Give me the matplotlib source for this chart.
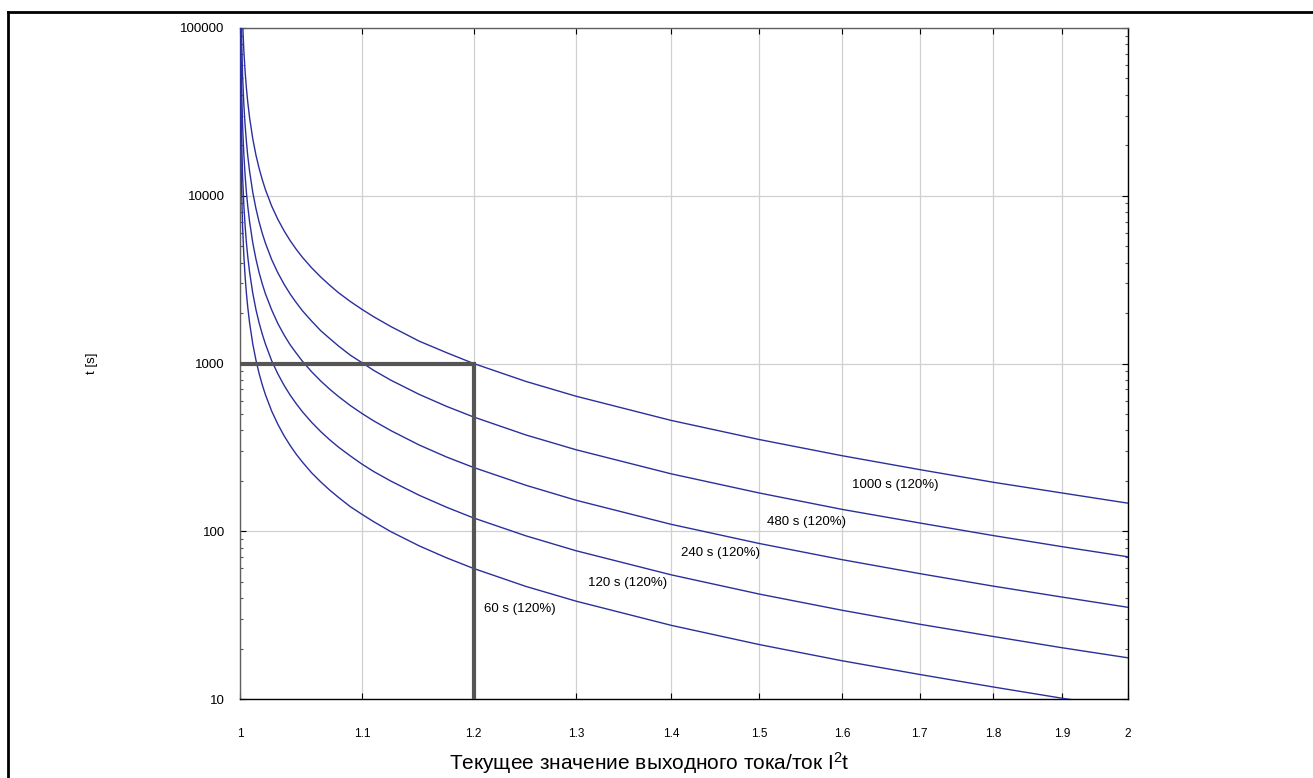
import matplotlib
matplotlib.use("Agg")
import matplotlib.pyplot as plt
from matplotlib.ticker import FixedLocator, NullLocator, LogLocator, NullFormatter
from matplotlib.lines import Line2D

plt.rcParams.update(
    {
        "font.family": ["Liberation Sans", "DejaVu Sans"],
        "mathtext.fontset": "custom",
        "mathtext.rm": "Liberation Sans",
        "mathtext.it": "Liberation Sans",
        "font.size": 9,
    }
)

# Ratio of output current to I2t current (log axis)
x_ratio = [1.0001, 1.0002, 1.0005, 1.001, 1.002, 1.003, 1.004, 1.005, 1.006,
           1.0075, 1.01, 1.0125, 1.015, 1.0175, 1.02, 1.025, 1.03, 1.035,
           1.04, 1.045, 1.05, 1.0575, 1.065, 1.0725, 1.08, 1.09, 1.1, 1.11,
           1.125, 1.15, 1.175, 1.2, 1.25, 1.3, 1.4, 1.5, 1.6, 1.7, 1.8, 1.9, 2.0]

# Trip time [s] for each setting
t_60 = [132000, 66000, 26400, 13200, 6590, 4390, 3290, 2630, 2190,
        1750, 1310, 1050, 873, 748, 653, 521, 434, 371,
        324, 287, 258, 223, 197, 176, 159, 140, 126, 114,
        99.4, 81.9, 69.4, 60, 46.9, 38.3, 27.5, 21.1, 16.9, 14.0, 11.8, 10.1, 8.8]
t_120 = [264000, 132000, 52800, 26400, 13200, 8790, 6590, 5270, 4390,
         3510, 2630, 2100, 1750, 1500, 1310, 1040, 867, 741,
         647, 574, 515, 446, 393, 351, 317, 281, 251, 227,
         199, 164, 139, 120, 93.9, 76.5, 55.0, 42.2, 33.8, 27.9, 23.6, 20.2, 17.6]
t_240 = [528000, 264000, 106000, 52800, 26400, 17600, 13200, 10500, 8770,
         7010, 5250, 4200, 3490, 2990, 2610, 2090, 1730, 1480,
         1290, 1150, 1030, 893, 787, 703, 635, 561, 503, 455,
         398, 327, 277, 240, 188, 153, 110, 84.5, 67.7, 55.9, 47.1, 40.5, 35.2]
t_480 = [1056000, 528000, 211000, 106000, 52700, 35100, 26300, 21100, 17500,
         14000, 10500, 8400, 6990, 5980, 5230, 4170, 3470, 2970,
         2590, 2300, 2060, 1790, 1570, 1410, 1270, 1120, 1010, 910,
         795, 655, 555, 480, 375, 306, 220, 169, 135, 112, 94.3, 80.9, 70.4]
t_1000 = [2200000, 1100000, 440000, 220000, 110000, 73200, 54900, 43900, 36600,
          29200, 21900, 17500, 14600, 12500, 10900, 8690, 7230, 6180,
          5390, 4780, 4290, 3720, 3280, 2930, 2640, 2340, 2100, 1900,
          1660, 1360, 1160, 1000, 782, 638, 458, 352, 282, 233, 196, 169, 147]

curves = [t_60, t_120, t_240, t_480, t_1000]
curve_labels = ["60 s (120%)", "120 s (120%)", "240 s (120%)",
                "480 s (120%)", "1000 s (120%)"]
label_x = [1.210, 1.312, 1.411, 1.509, 1.612]
label_y = [34.4, 48.9, 74.2, 113.5, 188.7]

# Reference point: 120 % current -> 1000 s
ref_x = [1.0, 1.2, 1.2]
ref_y = [1000, 1000, 10]

x_ticks = [1, 1.1, 1.2, 1.3, 1.4, 1.5, 1.6, 1.7, 1.8, 1.9, 2]
x_tick_labels = ["1", "1.1", "1.2", "1.3", "1.4", "1.5", "1.6", "1.7", "1.8", "1.9", "2"]
y_ticks = [10, 100, 1000, 10000, 100000]
y_tick_labels = ["10", "100", "1000", "10000", "100000"]

fig = plt.figure(figsize=(13.13, 7.78), dpi=100)
ax = fig.add_axes([240 / 1313, 1 - 699 / 778, 888 / 1313, 671 / 778])

ax.set_xscale("log")
ax.set_yscale("log")
ax.set_xlim(1, 2)
ax.set_ylim(10, 100000)

ax.grid(True, which="major", color="#d0d0d0", lw=0.9, zorder=0)

for t in curves:
    ax.plot(x_ratio, t, color="#2b2f9c", lw=1.0, zorder=3)

ax.plot(ref_x, ref_y, color="#555555", lw=3.0, solid_joinstyle="miter",
        solid_capstyle="butt", zorder=4)

for lx, ly, txt in zip(label_x, label_y, curve_labels):
    ax.text(lx, ly, txt, fontsize=9.5, ha="left", va="center", zorder=5)

# Axes ticks
ax.xaxis.set_major_locator(FixedLocator(x_ticks))
ax.xaxis.set_minor_locator(NullLocator())
ax.set_xticklabels(x_tick_labels, fontsize=8.5)
ax.yaxis.set_major_locator(FixedLocator(y_ticks))
ax.yaxis.set_minor_locator(LogLocator(base=10, subs=range(2, 10)))
ax.yaxis.set_minor_formatter(NullFormatter())
ax.set_yticklabels(y_tick_labels, fontsize=9.5)

ax.tick_params(axis="x", which="major", direction="in", top=True, bottom=True,
               length=4, width=0.8, pad=21)
ax.tick_params(axis="y", which="major", direction="in", left=True, right=True,
               length=4, width=0.8, pad=11)
ax.tick_params(axis="y", which="minor", direction="in", left=True, right=True,
               length=2.5, width=0.8, color="#555555")

for side in ["top", "left"]:
    ax.spines[side].set_color("#606060")
for side in ["bottom", "right"]:
    ax.spines[side].set_color("black")
for s in ax.spines.values():
    s.set_linewidth(1.0)

ax.set_ylabel("t [s]", fontsize=9.5)
ax.yaxis.set_label_coords(-0.160, 0.5)

fig.text(649 / 1313, 1 - 763 / 778, "Текущее значение выходного тока/ток I$^2$t",
         fontsize=15, ha="center", va="center")

# Outer frame (top and left edges only visible)
fig.add_artist(Line2D([8 / 1313, 1], [1 - 12 / 778, 1 - 12 / 778],
                      transform=fig.transFigure, color="black", lw=2))
fig.add_artist(Line2D([8 / 1313, 8 / 1313], [0, 1 - 12 / 778],
                      transform=fig.transFigure, color="black", lw=2))

fig.savefig("out.png", dpi=100)
